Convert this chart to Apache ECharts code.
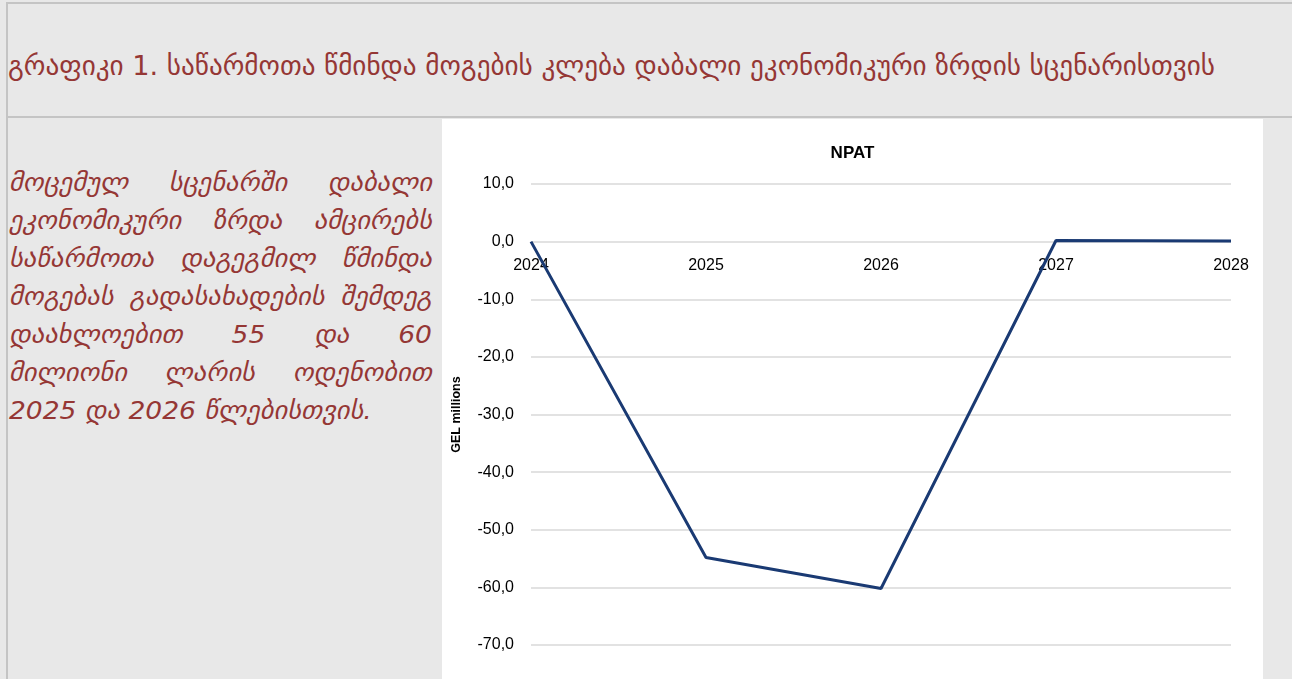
<!DOCTYPE html>
<html><head><meta charset="utf-8">
<script src="https://cdn.jsdelivr.net/npm/echarts@6/dist/echarts.min.js"></script>
<style>
html,body{margin:0;padding:0;width:1292px;height:679px;overflow:hidden;background:#e8e8e8;}
#frame{position:absolute;left:6px;top:2px;width:1290px;height:690px;border-left:2px solid #c4c4c4;border-top:2px solid #c4c4c4;}
#sep{position:absolute;left:6px;top:116px;width:1290px;height:0;border-top:2px solid #c4c4c4;}
#title{position:absolute;left:8px;top:50px;white-space:nowrap;font-family:"DejaVu Sans",sans-serif;font-size:27px;color:#953735;transform-origin:0 0;}
#para{position:absolute;left:9px;top:164px;font-family:"DejaVu Sans",sans-serif;font-style:italic;font-size:25px;line-height:38px;color:#953735;transform-origin:0 0;}
#para .ln{white-space:nowrap;text-align:justify;text-align-last:justify;}
#para .ln.last{text-align-last:left;}
#chart{position:absolute;left:442px;top:119px;width:821px;height:560px;background:#fff;}
</style></head><body>
<div id="frame"></div>
<div id="sep"></div>
<div id="title">გრაფიკი 1. საწარმოთა წმინდა მოგების კლება დაბალი ეკონომიკური ზრდის სცენარისთვის</div>
<div id="para">
<div class="ln">მოცემულ სცენარში დაბალი</div>
<div class="ln">ეკონომიკური ზრდა ამცირებს</div>
<div class="ln">საწარმოთა დაგეგმილ წმინდა</div>
<div class="ln">მოგებას გადასახადების შემდეგ</div>
<div class="ln">დაახლოებით 55 და 60</div>
<div class="ln">მილიონი ლარის ოდენობით</div>
<div class="ln last">2025 და 2026 წლებისთვის.</div>
</div>
<div id="chart"></div>
<script>
const years = ['2024','2025','2026','2027','2028'];
const npat = [0.0, -54.8, -60.2, 0.2, 0.1];
const chartTitle = 'NPAT';
const yName = 'GEL millions';

(function(){
  const t=document.getElementById('title');
  const w=t.getBoundingClientRect().width;
  t.style.transform='scaleX('+(1207/w)+')';
  const p=document.getElementById('para');
  const lines=p.querySelectorAll('.ln');
  let maxW=0;
  lines.forEach(l=>{const s=document.createElement('span');s.style.whiteSpace='nowrap';s.textContent=l.textContent;l.textContent='';l.appendChild(s);maxW=Math.max(maxW,s.getBoundingClientRect().width);l.textContent=s.textContent;});
  const W=Math.ceil(maxW+14);
  p.style.width=W+'px';
  p.style.transform='scaleX('+(423/W)+')';
})();

const chart = echarts.init(document.getElementById('chart'));
const opt = {
  backgroundColor:'#ffffff',
  animation:false,
  title:{text:chartTitle,left:'center',top:21,textStyle:{fontFamily:'Liberation Sans',fontSize:17,fontWeight:'bold',color:'#000'}},
  grid:{left:85,right:32,top:65,bottom:34},
  xAxis:{type:'category',data:years,boundaryGap:false,position:'bottom',offset:0,
    axisLine:{show:false,onZero:false},axisTick:{show:false},
    axisLabel:{color:'#000',fontFamily:'Liberation Sans',fontSize:16,margin:16},
    splitLine:{show:false}},
  yAxis:{type:'value',min:-70,max:10,interval:10,
    name:yName,nameLocation:'middle',nameGap:68,nameRotate:90,
    nameTextStyle:{fontFamily:'Liberation Sans',fontSize:12.5,fontWeight:'bold',color:'#000'},
    axisLine:{show:false},axisTick:{show:false},
    axisLabel:{color:'#000',fontFamily:'Liberation Sans',fontSize:16,margin:17,
      formatter:v=>v.toFixed(1).replace('.',',')},
    splitLine:{lineStyle:{color:'#d9d9d9',width:1.5}}},
  series:[{type:'line',data:npat,symbol:'none',z:3,lineStyle:{color:'#1a3a73',width:3}}]
};
chart.setOption(opt);
const zeroY = chart.convertToPixel({yAxisIndex:0}, 0);
const bottomY = chart.convertToPixel({yAxisIndex:0}, -70);
chart.setOption({xAxis:{offset: zeroY - bottomY}});
</script>
</body></html>
